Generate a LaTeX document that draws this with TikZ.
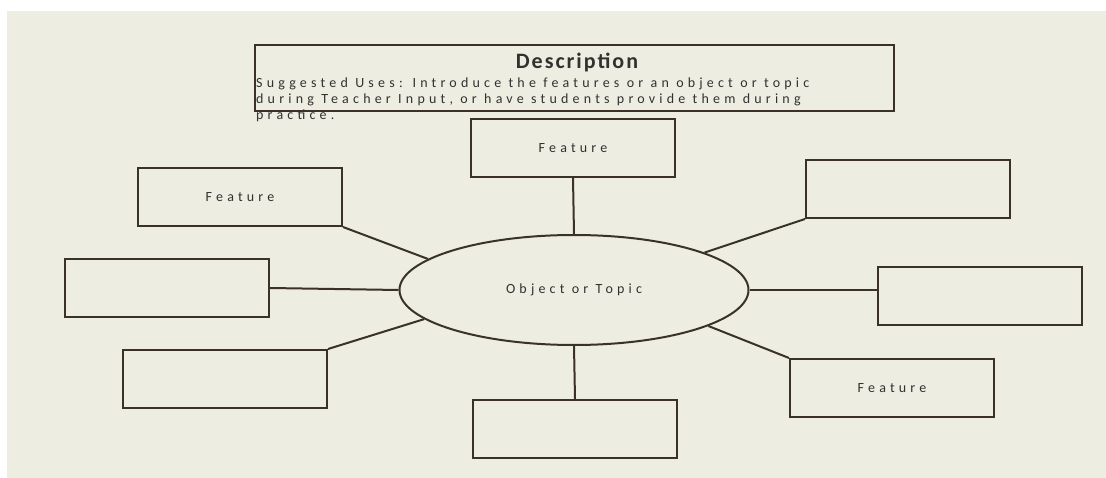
\documentclass[tikz,border=0pt]{standalone}
\usepackage{fontspec}
\setmainfont{Carlito}
\newfontfamily\widefont[LetterSpace=30]{Carlito}
\newfontfamily\titlefont[LetterSpace=9]{Carlito}
\usetikzlibrary{shapes.geometric}
\definecolor{bgc}{HTML}{EEEDE2}
\definecolor{linec}{HTML}{3A3229}
\definecolor{txtc}{HTML}{333030}
\tikzset{
  lbl/.style={text=txtc, font=\widefont\fontsize{14}{16}\selectfont},
  box/.style={lbl, draw=linec, line width=2pt, minimum width=204pt, minimum height=58pt, inner sep=0pt},
  conn/.style={draw=linec, line width=2pt},
}
\begin{document}
\begin{tikzpicture}[x=1pt,y=-1pt]
\useasboundingbox (0,0) rectangle (1106,478);
\fill[bgc] (7,11) rectangle (1106,478);
% description
\node[draw=linec, line width=1.6pt, minimum width=639pt, minimum height=66pt, inner sep=0pt, anchor=north west] (desc) at (254,44) {};
\node[text=txtc, anchor=base, inner sep=0pt, font=\titlefont\bfseries\fontsize{22}{26}\selectfont] (title) at (577,69) {Description};
\node[lbl, anchor=base west, inner sep=0pt, align=left] (body) at (256,120) {Suggested Uses: Introduce the features or an object or topic\\during Teacher Input, or have students provide them during\\practice.};
% center
\node[lbl, ellipse, draw=linec, line width=2pt, minimum width=349pt, minimum height=110pt, inner sep=0pt] (c) at (574,290) {Object or Topic};
% boxes
\node[box] (t)  at (573,148) {Feature};
\node[box] (lt) at (240,197) {Feature};
\node[box] (rt) at (908,189) {};
\node[box] (lm) at (167,288) {};
\node[box] (rm) at (980,296) {};
\node[box] (lb) at (225,379) {};
\node[box] (b)  at (575,429) {};
\node[box] (rb) at (892,388) {Feature};
% connectors
\draw[conn] (t.south) -- (c.north);
\draw[conn] (c.south) -- (b.north);
\draw[conn] (lt.south east) -- (c.168);
\draw[conn] (rt.south west) -- (c.16.5);
\draw[conn] (lb.north east) -- (c.191);
\draw[conn] (rb.north west) -- (c.345);
\draw[conn] (lm.east) -- (c.west);
\draw[conn] (c.east) -- (c.east -| rm.west);
\end{tikzpicture}
\end{document}
